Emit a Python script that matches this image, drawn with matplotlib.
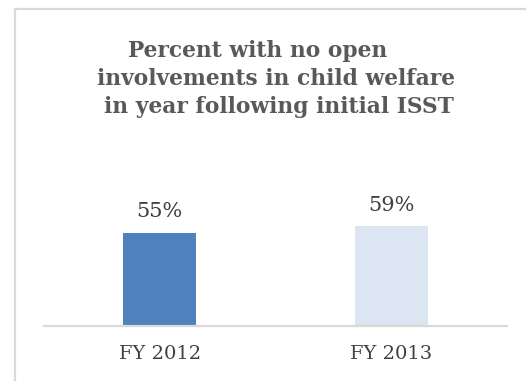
import matplotlib
matplotlib.use("Agg")
import matplotlib.pyplot as plt
from matplotlib.lines import Line2D

# Share of families with no open child-welfare involvement, by fiscal year
years = ["FY 2012", "FY 2013"]
pct_no_open = [55, 59]
bar_colors = ["#4F81BD", "#DCE6F2"]

title_lines = [
    "Percent with no open",
    "involvements in child welfare",
    "in year following initial ISST",
]

W, H = 526, 381
fig = plt.figure(figsize=(W / 100, H / 100), dpi=100)

serif = ["DejaVu Serif"]
text_gray = "#404040"
grid_gray = "#D9D9D9"

# chart frame: left and top edges only
fig.add_artist(Line2D([14.5 / W, 14.5 / W], [0, 1 - 8.5 / H],
                      transform=fig.transFigure, color=grid_gray, lw=1.6))
fig.add_artist(Line2D([14.5 / W, 1], [1 - 8.5 / H, 1 - 8.5 / H],
                      transform=fig.transFigure, color=grid_gray, lw=1.6))

# title, line by line
title_x = [258, 276, 279]
title_y = [57, 85, 113]
for line, x, y in zip(title_lines, title_x, title_y):
    fig.text(x / W, 1 - y / H, line, ha="center", va="baseline",
             fontsize=15.7, fontweight="bold", family=serif, color="#595959")

ax = fig.add_axes([44 / W, 1 - 325.5 / H, 463 / W, 169 / H])
xs = range(len(years))
bars = ax.bar(xs, pct_no_open, width=0.315, color=bar_colors)
ax.set_xlim(-0.5, len(years) - 0.5)
ax.set_ylim(0, 100)

for b, v in zip(bars, pct_no_open):
    ax.annotate(f"{v}%", (b.get_x() + b.get_width() / 2, v),
                xytext=(0, 11), textcoords="offset points",
                ha="center", va="baseline", fontsize=15, family=serif,
                color=text_gray)

ax.set_xticks(list(xs))
ax.set_xticklabels(years, fontsize=14, family=serif, color=text_gray)
ax.tick_params(axis="x", length=0, pad=14)
ax.set_yticks([])
for side in ["top", "left", "right"]:
    ax.spines[side].set_visible(False)
ax.spines["bottom"].set_color(grid_gray)
ax.spines["bottom"].set_linewidth(1.6)
ax.patch.set_alpha(0)

fig.savefig("out.png", dpi=100)
